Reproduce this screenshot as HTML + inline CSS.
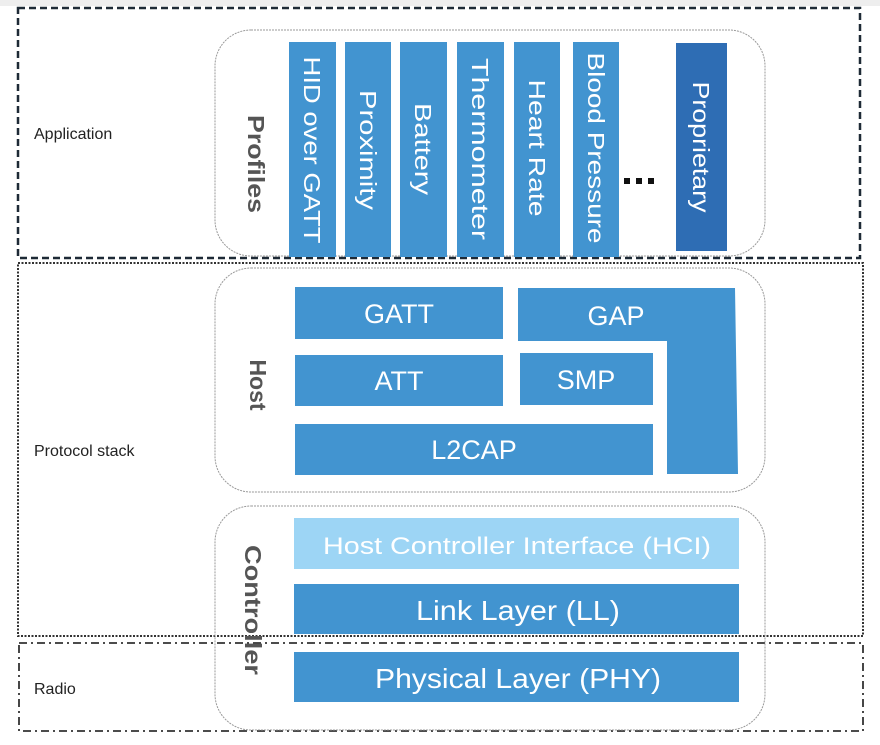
<!DOCTYPE html>
<html><head><meta charset="utf-8"><style>
html,body{margin:0;padding:0;background:#fff;width:880px;height:745px;overflow:hidden}
svg{display:block}
</style></head><body>
<svg width="880" height="745" viewBox="0 0 880 745" xmlns="http://www.w3.org/2000/svg" font-family="'Liberation Sans', sans-serif">
<rect x="0" y="0" width="880" height="6" fill="#eeeeee"/>
<rect x="18" y="8" width="842" height="250" fill="none" stroke="#1e2a36" stroke-width="2.5" stroke-dasharray="7,4"/>
<rect x="18" y="263" width="845" height="373" fill="none" stroke="#333" stroke-width="2" stroke-dasharray="2,1.5"/>
<rect x="19" y="643" width="844" height="88" fill="none" stroke="#333" stroke-width="1.8" stroke-dasharray="8,4,2,4"/>
<text x="34" y="139" font-size="16" fill="#222">Application</text>
<text x="34" y="456" font-size="16" fill="#222">Protocol stack</text>
<text x="34" y="694" font-size="16" fill="#222">Radio</text>
<rect x="215" y="30" width="550" height="226" rx="36" fill="none" stroke="#999" stroke-width="1" stroke-dasharray="2,1"/>
<rect x="215" y="268" width="550" height="224" rx="36" fill="none" stroke="#999" stroke-width="1" stroke-dasharray="2,1"/>
<rect x="215" y="506" width="550" height="224" rx="36" fill="none" stroke="#999" stroke-width="1" stroke-dasharray="2,1"/>
<g fill="#4294d0">
<rect x="289" y="42" width="47" height="215"/>
<rect x="345" y="42" width="46" height="215"/>
<rect x="400" y="42" width="47" height="215"/>
<rect x="457" y="42" width="47" height="215"/>
<rect x="514" y="42" width="46" height="215"/>
<rect x="573" y="42" width="46" height="215"/>
</g>
<rect x="676" y="43" width="51" height="208" fill="#2e6db4"/>
<g fill="#fff" font-size="23" text-anchor="middle" lengthAdjust="spacingAndGlyphs">
<text transform="translate(304,150) rotate(90)" textLength="187" lengthAdjust="spacingAndGlyphs">HID over GATT</text>
<text transform="translate(360,150) rotate(90)" textLength="120" lengthAdjust="spacingAndGlyphs">Proximity</text>
<text transform="translate(415,149) rotate(90)" textLength="92" lengthAdjust="spacingAndGlyphs">Battery</text>
<text transform="translate(472,149) rotate(90)" textLength="182" lengthAdjust="spacingAndGlyphs">Thermometer</text>
<text transform="translate(529,148) rotate(90)" textLength="137" lengthAdjust="spacingAndGlyphs">Heart Rate</text>
<text transform="translate(588,148) rotate(90)" textLength="191" lengthAdjust="spacingAndGlyphs">Blood Pressure</text>
<text transform="translate(693,147) rotate(90)" textLength="131" lengthAdjust="spacingAndGlyphs">Proprietary</text>
</g>
<g fill="#111"><rect x="624" y="178" width="6" height="6"/><rect x="636" y="178" width="6" height="6"/><rect x="648" y="178" width="6" height="6"/></g>
<g fill="#555" font-size="23" font-weight="bold" text-anchor="middle">
<text transform="translate(248,164) rotate(90)" textLength="98" lengthAdjust="spacingAndGlyphs">Profiles</text>
<text transform="translate(250,385) rotate(90)">Host</text>
<text transform="translate(245,610) rotate(90)" textLength="130" lengthAdjust="spacingAndGlyphs">Controller</text>
</g>
<g fill="#4294d0">
<rect x="295" y="287" width="208" height="52"/>
<polygon points="518,288 735,288 738,474 667,474 667,341 518,341"/>
<rect x="295" y="355" width="208" height="51"/>
<rect x="520" y="353" width="133" height="52"/>
<rect x="295" y="424" width="358" height="51"/>
</g>
<g fill="#fff" font-size="27" text-anchor="middle">
<text x="399" y="323">GATT</text>
<text x="616" y="325">GAP</text>
<text x="399" y="390">ATT</text>
<text x="586" y="389">SMP</text>
<text x="474" y="459">L2CAP</text>
</g>
<rect x="294" y="518" width="445" height="51" fill="#9dd5f5"/>
<rect x="294" y="584" width="445" height="50" fill="#4294d0"/>
<rect x="294" y="652" width="445" height="50" fill="#4294d0"/>
<g fill="#fff" text-anchor="middle">
<text x="517" y="554" font-size="24" textLength="388" lengthAdjust="spacingAndGlyphs">Host Controller Interface (HCI)</text>
<text x="518" y="620" font-size="28" textLength="204" lengthAdjust="spacingAndGlyphs">Link Layer (LL)</text>
<text x="518" y="688" font-size="28" textLength="286" lengthAdjust="spacingAndGlyphs">Physical Layer (PHY)</text>
</g>
</svg>
</body></html>
